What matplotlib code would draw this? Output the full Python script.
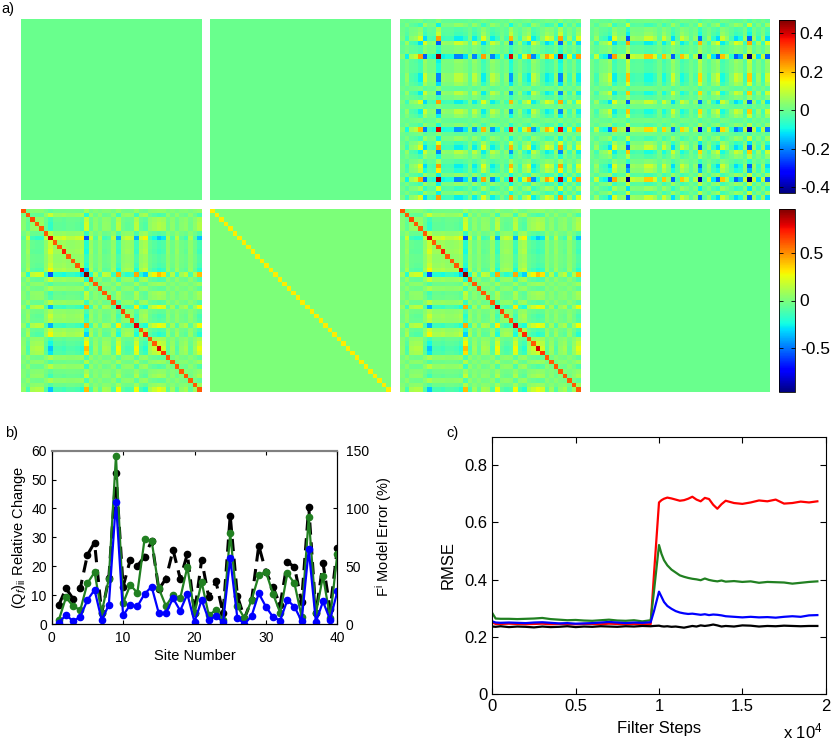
import numpy as np
import matplotlib
matplotlib.use("Agg")
import matplotlib.pyplot as plt

plt.rcParams['font.family'] = ['Liberation Sans', 'DejaVu Sans']
plt.rcParams['axes.unicode_minus'] = False
plt.rcParams['mathtext.fontset'] = 'custom'
plt.rcParams['mathtext.rm'] = 'Liberation Sans'
plt.rcParams['mathtext.it'] = 'Liberation Sans:italic'

# ---- panel a: loading vectors (one value per site)
top_load = [0.05, -0.15, 0.1, 0.15, 0.35, -0.35, -0.08, -0.12, 0.67, -0.15,
            -0.12, -0.12, -0.3, -0.3, -0.18, 0.05, -0.3, -0.08, 0.35, 0.05,
            -0.3, -0.15, 0.05, -0.12, 0.6, 0.05, -0.15, 0.18, 0.35, -0.3,
            -0.12, 0.1, 0.35, 0.25, -0.15, 0.65, -0.15, 0.18, -0.15, 0.35]
bot_load = [0.1, -0.25, 0.2, 0.25, 0.25, -0.2, -0.7, -0.25, -0.25, -0.3,
            -0.2, -0.2, -0.25, -0.4, 0.8, -0.25, 0.15, -0.15, 0.2, 0.15,
            -0.2, 0.55, -0.15, -0.25, -0.2, 0.55, -0.25, -0.4, 0.2, 0.35,
            0.5, 0.4, -0.15, 0.15, -0.2, 0.1, 0.2, -0.15, 0.15, 0.5]
bot_diag = [0.62, 0.6, 0.65, 0.6, 0.6, 0.6, 0.8, 0.6, 0.6, 0.72,
            0.6, 0.6, 0.6, 0.78, 0.95, 0.6, 0.6, 0.6, 0.6, 0.6,
            0.6, 0.8, 0.65, 0.6, 0.6, 0.8, 0.6, 0.7, 0.6, 0.6,
            0.8, 0.68, 0.6, 0.6, 0.6, 0.6, 0.6, 0.6, 0.6, 0.6]
prior_diag = 0.3
resid_level = -0.04
top_clim = (-0.43, 0.47)
bot_clim = (-0.96, 0.96)
top_ticks = [-0.4, -0.2, 0, 0.2, 0.4]
bot_ticks = [-0.5, 0, 0.5]

# ---- panel b
sites = list(range(1, 41))
qf_blue = [0.5, 3.1, 1, 2.5, 8.3, 11.8, 1.4, 6.6, 42.3, 3,
           6.6, 6.1, 10.4, 12.9, 3.7, 3.9, 8.9, 4.6, 10.4, 0.7,
           8.3, 1.4, 2.8, 0.7, 22.7, 2.1, 0, 2.8, 10.6, 6,
           2.4, 1.2, 8.3, 6, 1, 25.8, 0.7, 7.8, 1.4, 11.3]
qf_green = [1.4, 9.2, 6.2, 4.8, 14.1, 17.9, 3.9, 15.6, 58.2, 7.2,
            13.5, 10.8, 29.3, 28.8, 12.3, 6.2, 10, 8.9, 19.8, 3.7,
            14.5, 3.1, 4.8, 1.4, 31.4, 6.2, 2, 8.3, 16.8, 18.1,
            10.4, 3.9, 17.5, 14.1, 2.5, 36.9, 3.7, 16.6, 2, 24.2]
model_err = [16.5, 30.8, 21.8, 30.8, 59.8, 70.5, 9.3, 39.5, 130.5, 32.3,
             55.5, 50.3, 58.3, 72, 30, 39.3, 64, 39.3, 60.5, 9.3,
             55.5, 23, 37, 9.3, 93.8, 24.3, 5, 20.8, 67.8, 45.3,
             31.8, 16.5, 53.8, 49.3, 19.3, 101.5, 9.3, 52.5, 12.8, 65.5]

# ---- panel c
steps = [0, 200, 500, 1000, 1500, 2000, 2500, 3000, 3500, 4000,
         4500, 5000, 5500, 6000, 6500, 7000, 7500, 8000, 8500, 9000,
         9500, 9700, 10000, 10150, 10300, 10500, 10750, 11000, 11250, 11500,
         11750, 12000, 12250, 12500, 12750, 13000, 13250, 13500, 13750, 14000,
         14500, 15000, 15500, 16000, 16500, 17000, 17500, 18000, 18500, 19000,
         19500]
rmse_red = [0.25, 0.245, 0.245, 0.246, 0.245, 0.244, 0.245, 0.246, 0.244, 0.245,
            0.244, 0.244, 0.245, 0.245, 0.244, 0.246, 0.245, 0.244, 0.245, 0.244,
            0.244, 0.42, 0.67, 0.678, 0.683, 0.687, 0.684, 0.68, 0.676, 0.678,
            0.683, 0.69, 0.68, 0.674, 0.686, 0.682, 0.662, 0.648, 0.664, 0.676,
            0.668, 0.665, 0.67, 0.677, 0.674, 0.68, 0.666, 0.668, 0.673, 0.67,
            0.674]
rmse_green = [0.283, 0.264, 0.263, 0.263, 0.262, 0.263, 0.264, 0.266, 0.262, 0.26,
              0.258, 0.259, 0.257, 0.256, 0.258, 0.26, 0.257, 0.256, 0.258, 0.254,
              0.258, 0.36, 0.521, 0.49, 0.468, 0.45, 0.435, 0.425, 0.415, 0.41,
              0.406, 0.403, 0.401, 0.398, 0.404, 0.399, 0.396, 0.394, 0.397, 0.393,
              0.395, 0.392, 0.394, 0.389, 0.392, 0.391, 0.39, 0.386, 0.389, 0.392,
              0.394]
rmse_blue = [0.254, 0.25, 0.249, 0.25, 0.249, 0.248, 0.25, 0.251, 0.249, 0.247,
             0.248, 0.246, 0.247, 0.248, 0.25, 0.252, 0.25, 0.248, 0.25, 0.249,
             0.251, 0.29, 0.358, 0.34, 0.322, 0.308, 0.298, 0.29, 0.285, 0.282,
             0.28, 0.281, 0.279, 0.277, 0.279, 0.276, 0.278, 0.277, 0.275, 0.272,
             0.27, 0.268, 0.27, 0.268, 0.269, 0.267, 0.27, 0.272, 0.27, 0.275,
             0.276]
rmse_black = [0.236, 0.235, 0.237, 0.234, 0.236, 0.235, 0.233, 0.236, 0.234, 0.235,
              0.237, 0.234, 0.236, 0.235, 0.237, 0.236, 0.235, 0.237, 0.236, 0.238,
              0.237, 0.238, 0.239, 0.237, 0.236, 0.237, 0.235, 0.236, 0.234, 0.232,
              0.235, 0.238, 0.236, 0.24, 0.238, 0.24, 0.243, 0.24, 0.236, 0.238,
              0.236, 0.24, 0.239, 0.236, 0.238, 0.237, 0.239, 0.238, 0.237, 0.238,
              0.238]

GREEN = (0.13, 0.5, 0.13)
W, H = 832, 741
fig = plt.figure(figsize=(W / 100, H / 100), dpi=100)


def px_axes(x0, y0, x1, y1):
    return fig.add_axes([x0 / W, 1 - y1 / H, (x1 - x0) / W, (y1 - y0) / H])


# build matrices
n = len(top_load)
v = np.array(top_load)
m_top3 = np.outer(v, v)
m_top4 = -m_top3
m_zero = np.zeros((n, n))
w = np.array(bot_load)
m_bot5 = np.outer(w, w)
np.fill_diagonal(m_bot5, bot_diag)
m_bot6 = np.diag(np.full(n, prior_diag))
m_bot8 = np.full((n, n), resid_level)

top_mats = [m_zero, m_zero, m_top3, m_top4]
bot_mats = [m_bot5, m_bot6, m_bot5, m_bot8]
cols = [(21, 202), (210, 391), (400, 581), (590, 770)]

for mats, (y0, y1), clim, cb_box, ticks in [
        (top_mats, (18.5, 200.5), top_clim, (779, 20, 795, 193), top_ticks),
        (bot_mats, (208.5, 391.5), bot_clim, (779, 209, 795, 392), bot_ticks)]:
    for m, (x0, x1) in zip(mats, cols):
        ax = px_axes(x0, y0, x1, y1)
        im = ax.imshow(m, cmap='jet', vmin=clim[0], vmax=clim[1],
                       interpolation='nearest', aspect='auto')
        ax.axis('off')
    cax = px_axes(*cb_box)
    cb = fig.colorbar(im, cax=cax)
    cb.set_ticks(ticks)
    cb.set_ticklabels([('%g' % t) for t in ticks])
    cax.tick_params(labelsize=12.5, direction='in', length=3, width=0.6,
                    left=True, right=True)
    cb.outline.set_linewidth(0.6)

fig.text(1 / W, 1 - 9 / H, 'a)', fontsize=10.5, va='center', ha='left')
fig.text(5 / W, 1 - 433 / H, 'b)', fontsize=10.5, va='center', ha='left')
fig.text(446 / W, 1 - 433 / H, 'c)', fontsize=10.5, va='center', ha='left')

# panel b
axb = px_axes(51.7, 450.7, 337.3, 624)
ax2 = axb.twinx()
ax2.plot(sites, model_err, color='k', lw=2.2, dashes=(4, 2.5),
         marker='o', ms=4.5, mfc='k', mec='k')
axb.plot(sites, qf_green, color=GREEN, lw=1.6, marker='o', ms=4.5, mfc=GREEN, mec=GREEN)
axb.plot(sites, qf_blue, color='b', lw=1.6, marker='o', ms=4.5, mfc='b', mec='b')
axb.set_zorder(ax2.get_zorder() + 1)
axb.patch.set_visible(False)
axb.set_xlim(0, 40)
axb.set_ylim(0, 60)
ax2.set_ylim(0, 150)
axb.set_xticks([0, 10, 20, 30, 40])
axb.set_yticks([0, 10, 20, 30, 40, 50, 60])
ax2.set_yticks([0, 50, 100, 150])
axb.tick_params(direction='in', labelsize=10, top=True, right=False, length=3)
axb.tick_params(axis='x', pad=5)
ax2.tick_params(direction='in', labelsize=10, length=3, pad=6)
axb.set_xlabel('Site Number', fontsize=10.5, labelpad=3)
axb.set_ylabel(r'$(\mathrm{Q}_{f})_{\mathrm{ii}}$ Relative Change', fontsize=10.5, labelpad=2)
ax2.set_ylabel(r'F$^{\mathrm{i}}$ Model Error (%)', fontsize=10.5, labelpad=3)
for a in (axb, ax2):
    for s in a.spines.values():
        s.set_linewidth(0.8)
    a.spines['top'].set_color('0.5')
    a.spines['top'].set_linewidth(1.5)

# panel c
axc = px_axes(492.3, 436.7, 825.7, 694)
x = np.array(steps) / 1e4
axc.plot(x, rmse_red, color='r', lw=1.6)
axc.plot(x, rmse_green, color=GREEN, lw=1.6)
axc.plot(x, rmse_blue, color='b', lw=1.6)
axc.plot(x, rmse_black, color='k', lw=1.6)
axc.set_xlim(0, 2)
axc.set_ylim(0, 0.9)
axc.set_xticks([0, 0.5, 1, 1.5, 2])
axc.set_xticklabels(['0', '0.5', '1', '1.5', '2'])
axc.set_yticks([0, 0.2, 0.4, 0.6, 0.8])
axc.set_yticklabels(['0', '0.2', '0.4', '0.6', '0.8'])
axc.tick_params(direction='in', labelsize=12, top=True, right=True, length=4)
for s in axc.spines.values():
    s.set_linewidth(0.8)
axc.set_xlabel('Filter Steps', fontsize=12, labelpad=5)
axc.set_ylabel('RMSE', fontsize=12, labelpad=6)
axc.text(0.992, -0.145, 'x 10$^4$', transform=axc.transAxes, fontsize=12,
         ha='right', va='center')

fig.savefig('out.png', dpi=100)
